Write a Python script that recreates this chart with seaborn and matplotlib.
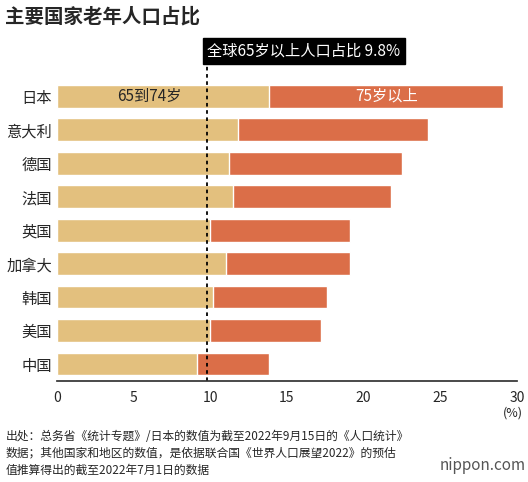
import matplotlib
matplotlib.use("Agg")
import matplotlib.pyplot as plt
import seaborn as sns
import pandas as pd

countries = ["日本","意大利","德国","法国","英国","加拿大","韩国","美国","中国"]
age65_74 = [13.8, 11.8, 11.2, 11.5, 10.0, 11.0, 10.2, 10.0, 9.1]
age75 = [15.3, 12.4, 11.3, 10.3, 9.1, 8.1, 7.4, 7.2, 4.7]
world = 9.8

sns.set_theme(style="white")
plt.rcParams['font.family'] = ['Noto Sans CJK SC', 'DejaVu Sans']

total = [a + b for a, b in zip(age65_74, age75)]
df = pd.DataFrame({"country": countries, "a": age65_74, "t": total})

fig = plt.figure(figsize=(5.28, 4.82), dpi=100)
ax = fig.add_axes([0.108, 0.21, 0.871, 0.625])
c1, c2 = "#E3C07E", "#DB6E48"
sns.barplot(data=df, x="t", y="country", color=c2, width=0.68, saturation=1, ax=ax)
sns.barplot(data=df, x="a", y="country", color=c1, width=0.68, saturation=1, ax=ax)
ax.set_xlim(0, 30)
ax.set_xticks([0,5,10,15,20,25,30])
ax.tick_params(axis='x', labelsize=10, length=4, color="#333")
ax.tick_params(axis='y', labelsize=11, length=0)
ax.set_xlabel(""); ax.set_ylabel("")
for s in ["top","right","left"]:
    ax.spines[s].set_visible(False)
ax.spines["bottom"].set_color("#333")
ax.axvline(world, color="black", ls=(0,(2,2)), lw=1.3, ymax=1.08, clip_on=False)
ax.text(6, 0, "65到74岁", ha="center", va="center", fontsize=11)
ax.text(21.5, 0, "75岁以上", ha="center", va="center", fontsize=11, color="white")
ax.text(world, -1.35, "全球65岁以上人口占比 9.8%", ha="left", va="center", fontsize=11,
        color="white", bbox=dict(boxstyle="square,pad=0.3", fc="black", ec="black"))
fig.text(0.99, 0.135, "(%)", ha="right", fontsize=9)
fig.text(0.01, 0.965, "主要国家老年人口占比", fontsize=14, fontweight="bold", va="center")
fig.text(0.01, 0.06, "出处：总务省《统计专题》/日本的数值为截至2022年9月15日的《人口统计》\n数据；其他国家和地区的数值，是依据联合国《世界人口展望2022》的预估\n值推算得出的截至2022年7月1日的数据",
         fontsize=8.5, va="center", linespacing=1.4)
fig.text(0.995, 0.025, "nippon.com", ha="right", fontsize=11, color="#555")
fig.savefig("out.png", dpi=100, facecolor="white")
